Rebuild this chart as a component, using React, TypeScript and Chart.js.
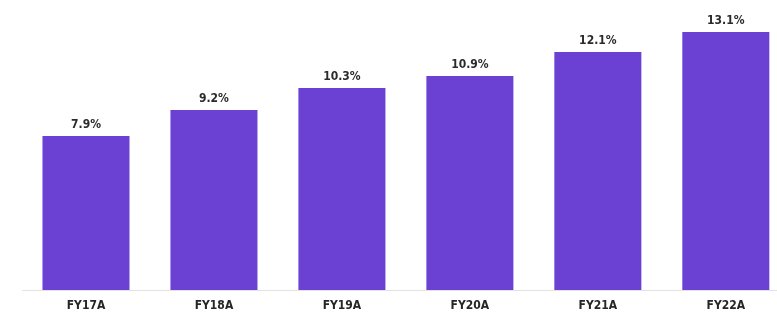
import React, { useEffect, useRef } from "react";
import { Chart, registerables } from "chart.js";

Chart.register(...registerables);

const categories = ["FY17A", "FY18A", "FY19A", "FY20A", "FY21A", "FY22A"];
const marginValues = [7.9, 9.2, 10.3, 10.9, 12.1, 13.1];
const valueLabels = ["7.9%", "9.2%", "10.3%", "10.9%", "12.1%", "13.1%"];

const FONT = "'Liberation Sans Narrow', 'DejaVu Sans Condensed', Arial, sans-serif";

const valueLabelPlugin = {
  id: "valueLabels",
  afterDatasetsDraw(chart: any) {
    const ctx = chart.ctx;
    const meta = chart.getDatasetMeta(0);
    ctx.save();
    ctx.font = `bold 12px ${FONT}`;
    ctx.fillStyle = "#2b2b2b";
    ctx.textAlign = "center";
    ctx.textBaseline = "middle";
    meta.data.forEach((bar: any, i: number) => {
      ctx.fillText(valueLabels[i], bar.x, bar.y - 11);
    });
    ctx.restore();
  },
};

export default function App() {
  const ref = useRef<HTMLCanvasElement>(null);
  useEffect(() => {
    if (!ref.current) return;
    const chart = new Chart(ref.current, {
      type: "bar",
      data: {
        datasets: [
          {
            data: marginValues.map((v, i) => ({ x: i, y: v })),
            backgroundColor: "#6B41D3",
            barPercentage: 0.68,
            categoryPercentage: 1,
          },
        ],
      },
      options: {
        animation: false,
        responsive: false,
        maintainAspectRatio: false,
        layout: { padding: { left: 22, right: 0, top: 10, bottom: 0 } },
        plugins: { legend: { display: false }, tooltip: { enabled: false } },
        scales: {
          x: {
            type: "linear",
            offset: false,
            min: -0.5,
            max: 5.4,
            grid: { display: false, drawTicks: false },
            border: { display: true, color: "#e3e3e3", width: 1 },
            afterBuildTicks: (scale: any) => {
              scale.ticks = categories.map((_, i) => ({ value: i }));
            },
            afterFit: (scale: any) => {
              scale.height = 25;
            },
            ticks: {
              autoSkip: false,
              maxRotation: 0,
              padding: 9,
              color: "#262626",
              font: { family: FONT, size: 12, weight: "bold" },
              callback: (v: any) => categories[v] ?? "",
            },
          },
          y: {
            display: false,
            min: 0.2,
            max: 14.2,
          },
        },
      },
      plugins: [valueLabelPlugin],
    });
    return () => chart.destroy();
  }, []);
  return (
    <div style={{ position: "fixed", left: 0, top: 0, width: 777, height: 315, background: "#fff" }}>
      <canvas ref={ref} width={777} height={315} style={{ width: 777, height: 315 }} />
    </div>
  );
}
